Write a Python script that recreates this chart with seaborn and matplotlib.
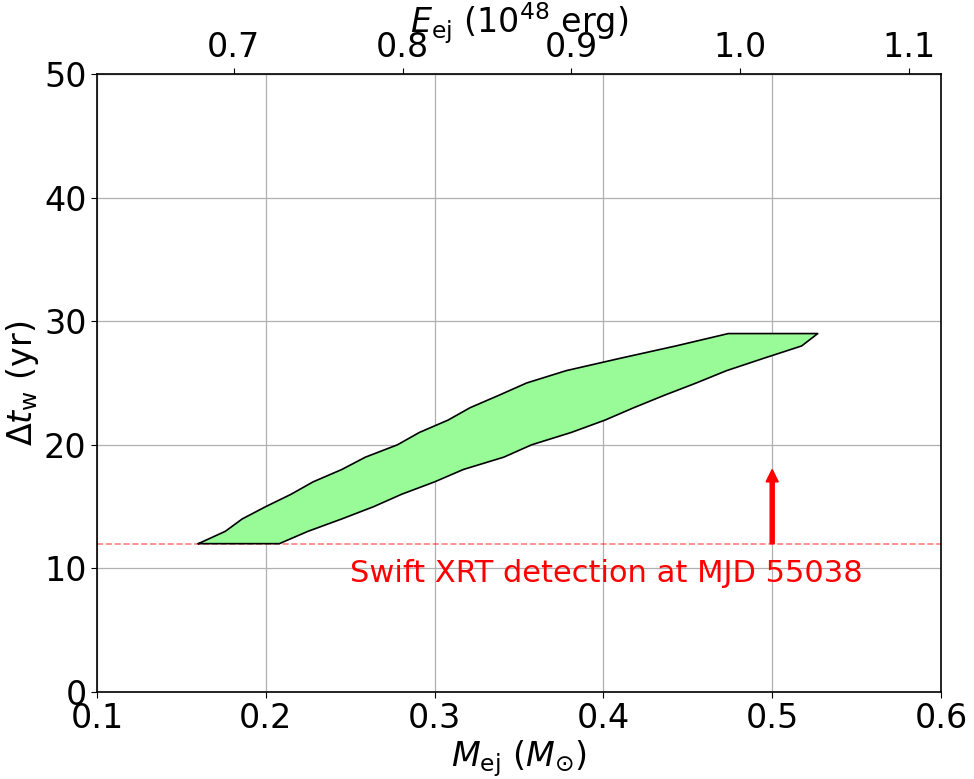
import numpy as np
import pandas as pd
import seaborn as sns
import matplotlib
matplotlib.use('Agg')
import matplotlib.pyplot as plt

# upper edge of the allowed region (left -> right)
m_upper = [0.160, 0.176, 0.186, 0.200, 0.215, 0.228, 0.245, 0.259, 0.278, 0.291,
           0.308, 0.321, 0.338, 0.3545, 0.378, 0.410, 0.443, 0.474, 0.527]
dt_upper = [12, 13, 14, 15, 16, 17, 18, 19, 20, 21, 22, 23, 24, 25, 26, 27, 28, 29, 29]
# lower edge (left -> right)
m_lower = [0.160, 0.208, 0.225, 0.245, 0.264, 0.2805, 0.300, 0.317, 0.341, 0.3575,
           0.381, 0.401, 0.418, 0.436, 0.455, 0.473, 0.495, 0.5175, 0.527]
dt_lower = [12, 12, 13, 14, 15, 16, 17, 18, 19, 20, 21, 22, 23, 24, 25, 26, 27, 28, 29]

swift_dt = 12        # yr, Swift XRT detection
arrow_m = 0.5
arrow_top = 18
e_offset = 0.519     # E_ej (1e48 erg) = M_ej + offset on this plot
top_ticks = [0.7, 0.8, 0.9, 1.0, 1.1]

sns.set_style('white')
plt.rcParams['font.family'] = ['DejaVu Sans']
plt.rcParams['mathtext.fontset'] = 'dejavusans'
# plain black text like the original
for k in ['text.color', 'axes.labelcolor', 'xtick.color', 'ytick.color']:
    plt.rcParams[k] = 'black'

fig = plt.figure(figsize=(9.74, 7.79), dpi=100)
ax = fig.add_axes([0.0996, 0.1117, 0.8665, 0.7933])

# polygon: upper edge then lower edge back
poly = pd.DataFrame({
    'M': m_upper + m_lower[::-1],
    'dt': dt_upper + dt_lower[::-1],
})
ax.fill(poly['M'], poly['dt'], facecolor='palegreen', edgecolor='none', zorder=2)
sns.lineplot(data=pd.concat([poly, poly.iloc[:1]]), x='M', y='dt', sort=False,
             estimator=None, color='black', lw=1.2, ax=ax, zorder=3)

line = pd.DataFrame({'M': [0.1, 0.6], 'dt': [swift_dt, swift_dt]})
sns.lineplot(data=line, x='M', y='dt', color='red', ls='--', lw=1.2, alpha=0.5, ax=ax, zorder=2)

ax.arrow(arrow_m, swift_dt, 0, arrow_top - swift_dt, width=0.0024, head_width=0.0072,
         head_length=1.0, length_includes_head=True, color='red', zorder=4)
ax.text(0.25, 9.6, 'Swift XRT detection at MJD 55038', color='red', fontsize=22, va='center')

ax.set_xlim(0.1, 0.6)
ax.set_ylim(0, 50)
ax.set_xticks([0.1, 0.2, 0.3, 0.4, 0.5, 0.6])
ax.set_yticks([0, 10, 20, 30, 40, 50])
ax.grid(True, color='#b0b0b0', lw=0.9)
ax.set_axisbelow(True)
ax.tick_params(labelsize=24, direction='out', length=4, bottom=True, left=True)
ax.set_xlabel(r'$M_{\rm ej}$ ($M_{\odot}$)', fontsize=24, labelpad=2)
ax.set_ylabel(r'$\Delta t_{\rm w}$ (yr)', fontsize=24, labelpad=2)
for s in ax.spines.values():
    s.set_color('black')
    s.set_linewidth(1.2)

top = ax.secondary_xaxis('top', functions=(lambda m: m + e_offset, lambda e: e - e_offset))
top.set_xticks(top_ticks)
top.tick_params(labelsize=24, direction='out', length=4)
top.set_xlabel(r'$E_{\rm ej}$ ($10^{48}$ erg)', fontsize=24, labelpad=-2)

fig.savefig('out.png', dpi=100)
